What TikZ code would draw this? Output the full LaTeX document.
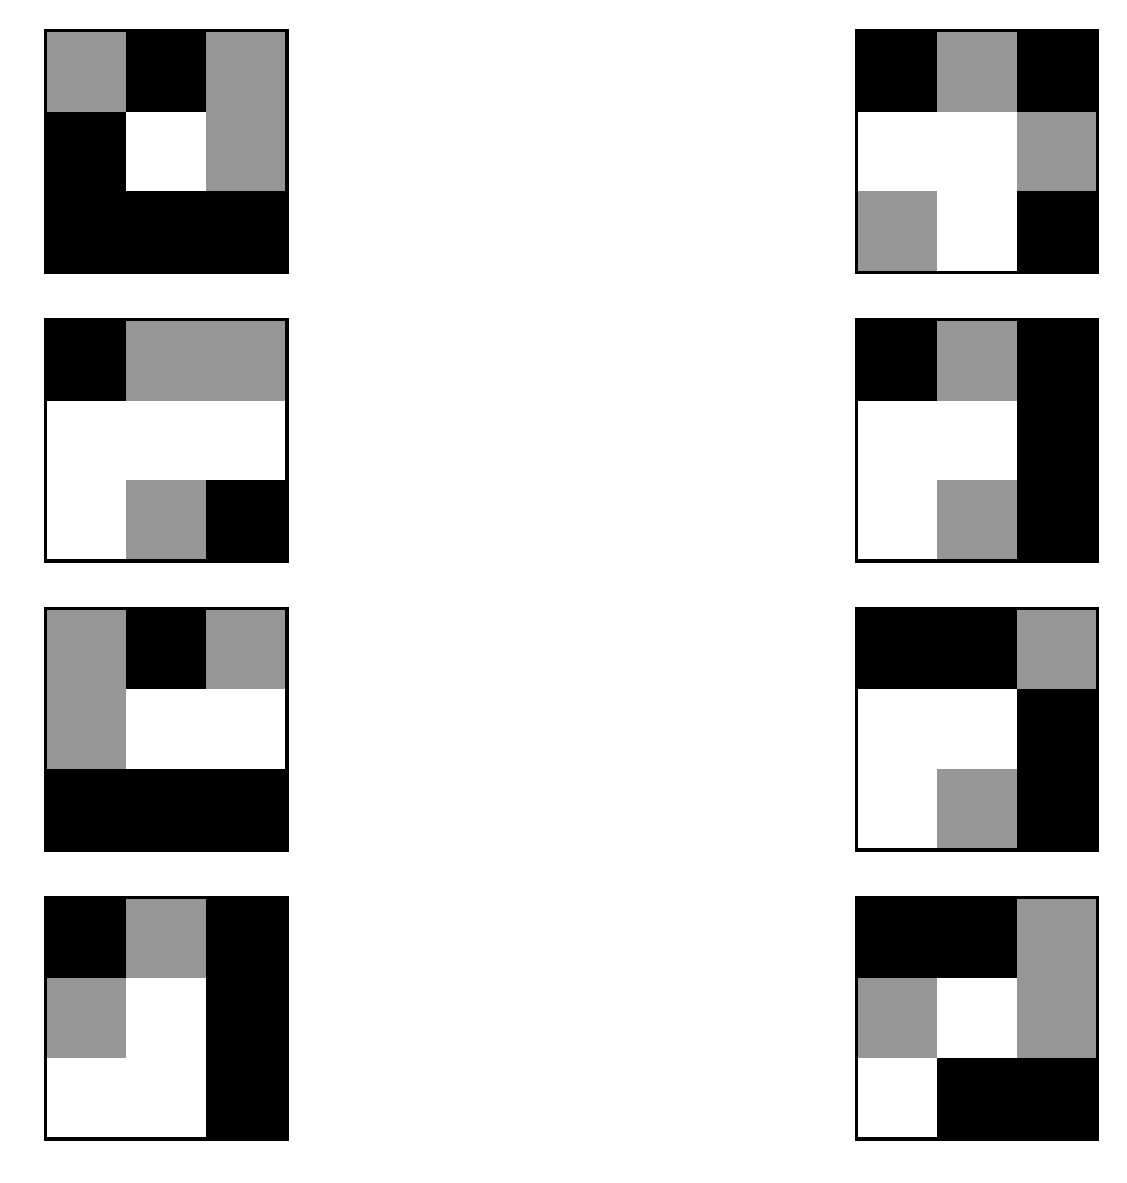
\documentclass[tikz,border=0pt]{standalone}
\usepackage{tikz}
\usepackage{xcolor}
\definecolor{cg}{RGB}{150,150,150}
\colorlet{cb}{black}
\colorlet{cw}{white}

\begin{document}
\begin{tikzpicture}[frame/.style={draw=black,line width=1.1pt}]
		\useasboundingbox (0,0) rectangle (14.176,-14.881);
		% grids: left corner, top, then the nine cells row by row
		\foreach \x/\y/\cells in {
			0.591/0.403/{cg,cb,cg,cb,cw,cg,cb,cb,cb},
			10.792/0.403/{cb,cg,cb,cw,cw,cg,cg,cw,cb},
			0.591/4.038/{cb,cg,cg,cw,cw,cw,cw,cg,cb},
			10.792/4.038/{cb,cg,cb,cw,cw,cb,cw,cg,cb},
			0.591/7.673/{cg,cb,cg,cg,cw,cw,cb,cb,cb},
			10.792/7.673/{cb,cb,cg,cw,cw,cb,cw,cg,cb},
			0.591/11.308/{cb,cg,cb,cg,cw,cb,cw,cw,cb},
			10.792/11.308/{cb,cb,cg,cg,cw,cg,cw,cb,cb}}
		{
			\foreach \c [count=\i from 0] in \cells {
				\pgfmathtruncatemacro{\col}{mod(\i,3)}
				\pgfmathtruncatemacro{\row}{int(\i/3)}
				\fill[\c] (\x+\col,-\y-\row) rectangle ++(1,-1);
			}
			\draw[frame] (\x-0.019,-\y+0.019) rectangle (\x+3.019,-\y-3.019);
		}
		\end{tikzpicture}
\end{document}
